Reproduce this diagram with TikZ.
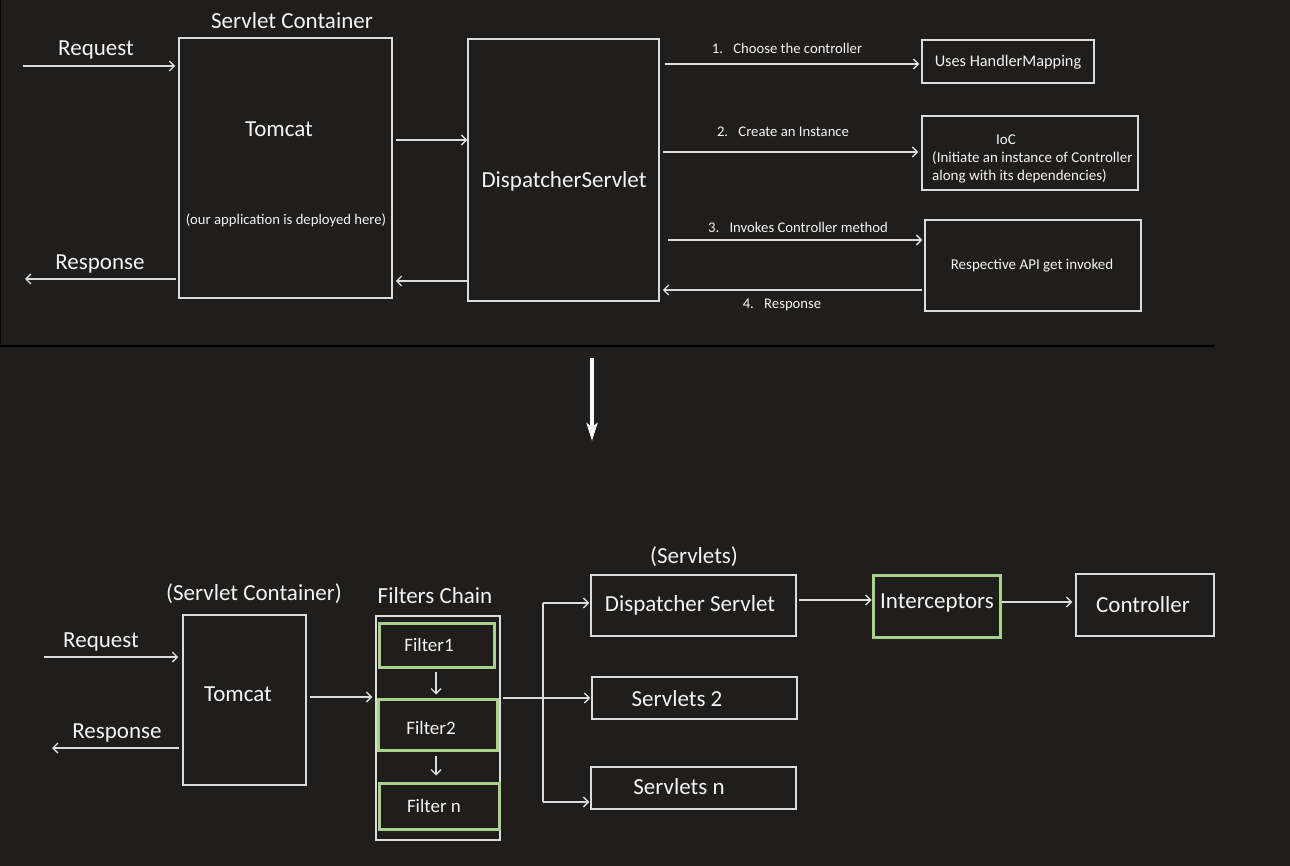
\documentclass[tikz,border=0pt]{standalone}
\usepackage{fontspec}
\setmainfont{Carlito}
\usetikzlibrary{arrows.meta}
\definecolor{bg}{HTML}{201E1C}
\definecolor{ln}{HTML}{DCDCDC}
\definecolor{gr}{HTML}{A9D18E}
\definecolor{tx}{HTML}{F4F4F4}
\begin{document}
\begin{tikzpicture}[x=1pt,y=-1pt,
  box/.style={draw=ln, line width=1.5pt, inner sep=0pt},
  gbox/.style={draw=gr, line width=3pt, inner sep=0pt},
  sz/.style 2 args={minimum width=#1pt, minimum height=#2pt},
  arr/.style={draw=ln, line width=1.4pt, -{Straight Barb[length=5pt,width=10pt]}},
  ln/.style={draw=ln, line width=1.4pt},
  big/.style={text=tx, inner sep=0pt, font=\fontsize{23}{27}\selectfont},
  mid/.style={text=tx, inner sep=0pt, font=\fontsize{19}{23}\selectfont},
  small/.style={text=tx, inner sep=0pt, font=\fontsize{16.3}{19}\selectfont},
  smaller/.style={text=tx, inner sep=0pt, font=\fontsize{15}{18}\selectfont},
  tiny/.style={text=tx, inner sep=0pt, font=\fontsize{14.7}{17}\selectfont},
]
\fill[bg] (0,0) rectangle (1290,866);
\useasboundingbox (0,0) rectangle (1290,866);
% top panel border
\draw[black, line width=2pt] (0,346) -- (1215,346);
\draw[black!70!bg, line width=1pt] (0.5,0) -- (0.5,346);

% ---------- TOP ----------
\node[box, sz={213}{260}] (tomA) at (285.5,168) {};
\node[box, sz={191}{262}] (dspA) at (563.5,170) {};
\node[box, sz={172}{43}] (hm) at (1008,61.5) {};
\node[box, sz={216}{74}] (ioc) at (1030,153) {};
\node[box, sz={216}{91}] (api) at (1033,265.5) {};

\node[big] (tSC) at (292,21) {Servlet Container};
\node[big] (tTom) at (279,129) {Tomcat};
\node[tiny] (tDep) at (286,220) {(our application is deployed here)};
\node[big] (tDsp) at (564,181) {DispatcherServlet};
\node[small] (tHm) at (1008,62) {Uses HandlerMapping};
\node[smaller] (tIoc) at (1006,140) {IoC};
\node[smaller, align=left, anchor=west] (tIoc2) at (932,167) {(Initiate an instance of Controller\\along with its dependencies)};
\node[smaller] (tApi) at (1032,266) {Respective API get invoked};

\node[big] (tReq) at (96,50) {Request};
\node[big] (tResp) at (100,264) {Response};
\node[tiny] (l1) at (787,48) {1.\hspace{0.7em}Choose the controller};
\node[tiny] (l2) at (783,132) {2.\hspace{0.7em}Create an Instance};
\node[tiny] (l3) at (798,227) {3.\hspace{0.7em}Invokes Controller method};
\node[tiny] (l4) at (782,305) {4.\hspace{0.7em}Response};

\coordinate (reqA) at (23,66);
\coordinate (respA) at (25,279);
\draw[arr, shorten >=3pt] (reqA) -- (tomA.west |- reqA);
\draw[arr, shorten <=2pt] (tomA.west |- respA) -- (respA);
\draw[arr, shorten <=3pt] (tomA.east |- 0,140) -- (dspA.west |- 0,140);
\draw[arr, shorten >=3pt] (dspA.west |- 0,281) -- (tomA.east |- 0,281);
\draw[arr, shorten <=5pt, shorten >=2pt] (dspA.east |- 0,64) -- (hm.west |- 0,64);
\draw[arr, shorten <=3pt, shorten >=3pt] (dspA.east |- 0,152) -- (ioc.west |- 0,152);
\draw[arr, shorten <=8pt, shorten >=2pt] (dspA.east |- 0,240) -- (api.west |- 0,240);
\draw[arr, shorten <=2pt, shorten >=3pt] (api.west |- 0,290) -- (dspA.east |- 0,290);

% down arrow
\coordinate (dA) at (592,358);
\coordinate (dB) at (592,441);
\draw[draw=white!94!gray, line width=4pt, -{Stealth[length=18pt,width=11pt,inset=4pt]}] (dA) -- (dB);

% ---------- BOTTOM ----------
\node[box, sz={123}{170}] (tomB) at (244.5,700) {};
\node[box, sz={124}{224}] (fc) at (438,728) {};
\node[gbox, sz={115}{44}] (f1) at (436.5,645) {};
\node[gbox, sz={119}{51}] (f2) at (437.5,724.5) {};
\node[gbox, sz={120}{46}] (fn) at (439,806) {};
\node[box, sz={205}{61}] (dsB) at (693.5,605.5) {};
\node[box, sz={205}{42}] (s2) at (694.5,698) {};
\node[box, sz={205}{42}] (sn) at (693.5,788) {};
\node[gbox, sz={127}{62}] (ic) at (936.5,606) {};
\node[box, sz={138}{62}] (ctl) at (1145,605) {};

\node[big] (bSC) at (254,594) {(Servlet Container)};
\node[big] (bFC) at (435,596) {Filters Chain};
\node[big] (bSv) at (694,557) {(Servlets)};
\node[big] (bReq) at (101,642) {Request};
\node[big] (bResp) at (117,733) {Response};
\node[big] (bTom) at (238,694) {Tomcat};
\node[mid] (bF1) at (429,645) {Filter1};
\node[mid] (bF2) at (431,728) {Filter2};
\node[mid] (bFn) at (434,806) {Filter n};
\node[big] (bDs) at (690,605) {Dispatcher Servlet};
\node[big] (bS2) at (677,699) {Servlets 2};
\node[big] (bSn) at (679,787) {Servlets n};
\node[big] (bIc) at (937,603) {Interceptors};
\node[big] (bCt) at (1143,605) {Controller};

\coordinate (reqB) at (44,657);
\coordinate (respB) at (52,748);
\draw[arr, shorten >=4pt] (reqB) -- (tomB.west |- reqB);
\draw[arr, shorten <=3pt] (tomB.west |- respB) -- (respB);
\draw[arr, shorten <=3pt, shorten >=3pt] (tomB.east |- 0,697) -- (fc.west |- 0,697);
\draw[arr, shorten <=3pt, shorten >=3pt] (f1.south -| 436,0) -- (f2.north -| 436,0);
\draw[arr, shorten <=4pt, shorten >=6pt] (f2.south -| 436,0) -- (fn.north -| 436,0);

\coordinate (fk) at (543,698);
\coordinate (fkT) at (543,603);
\coordinate (fkB) at (543,802);
\draw[arr, shorten <=2pt, shorten >=1pt] (fc.east |- fk) -- (s2.west |- fk);
\draw[ln] (fkT) -- (fkB);
\draw[arr, shorten >=1pt] (fkT) -- (dsB.west |- fkT);
\draw[arr, shorten >=1pt] (fkB) -- (sn.west |- fkB);
\draw[arr, shorten <=2pt] (dsB.east |- 0,600) -- (ic.west |- 0,600);
\draw[arr, shorten >=3pt] (ic.east |- 0,602) -- (ctl.west |- 0,602);
\end{tikzpicture}
\end{document}
